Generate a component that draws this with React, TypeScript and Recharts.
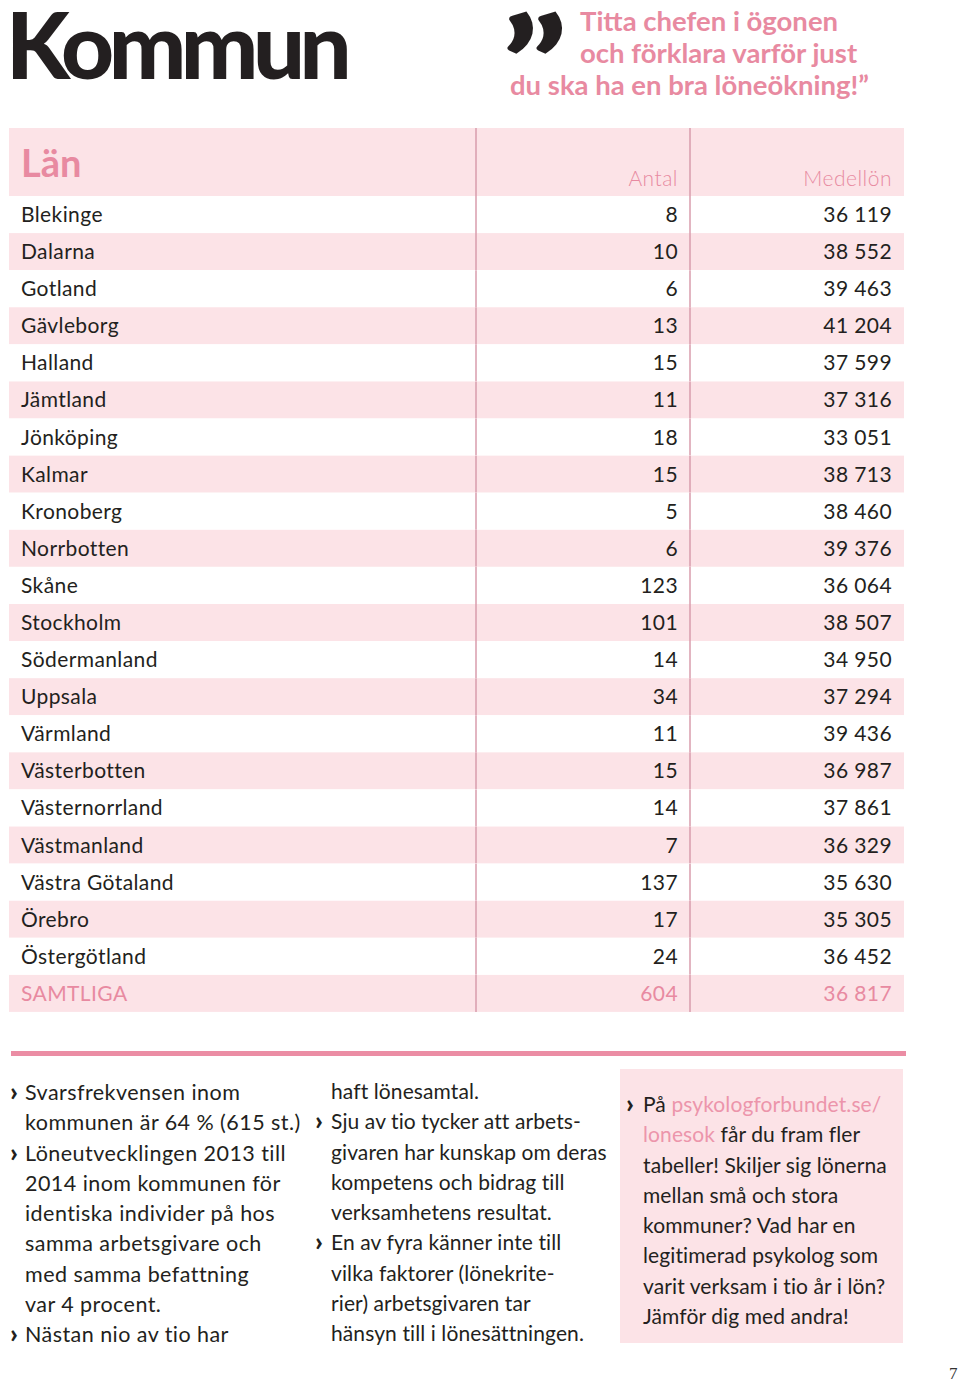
import { ComposedChart, Bar, XAxis, YAxis, LabelList } from 'recharts';

// Län, antal svarande och medellön (kommun)
const lan = [
  'Blekinge', 'Dalarna', 'Gotland', 'Gävleborg', 'Halland', 'Jämtland', 'Jönköping', 'Kalmar',
  'Kronoberg', 'Norrbotten', 'Skåne', 'Stockholm', 'Södermanland', 'Uppsala', 'Värmland',
  'Västerbotten', 'Västernorrland', 'Västmanland', 'Västra Götaland', 'Örebro', 'Östergötland', 'SAMTLIGA',
];
const antal = [8, 10, 6, 13, 15, 11, 18, 15, 5, 6, 123, 101, 14, 34, 11, 15, 14, 7, 137, 17, 24, 604];
const medellon = [
  36119, 38552, 39463, 41204, 37599, 37316, 33051, 38713, 38460, 39376, 36064,
  38507, 34950, 37294, 39436, 36987, 37861, 36329, 35630, 35305, 36452, 36817,
];

const rows = lan.map((l, i) => ({ lan: l, antal: antal[i], medellon: medellon[i] }));

const PINK_BG = '#fce3e7';
const PINK = '#e88aa1';
const SEP = '#d99cad';
const INK = '#231f20';
const FONT = 'Lato, sans-serif';

const fmt = (n: number) => `${Math.floor(n / 1000)} ${String(n % 1000).padStart(3, '0')}`;
const isTotal = (i: number) => i === lan.length - 1;

// kolumnpositioner relativt tabellens vänsterkant
const COL_NAME = 12;
const COL_SEP1 = 467;
const COL_ANTAL = 669;
const COL_SEP2 = 681;
const COL_LON = 883;

const RowBackground = (p: any) => {
  const { x, y, width, height, index } = p;
  return (
    <g>
      <rect x={x} y={y} width={width} height={height} fill={index % 2 === 1 ? PINK_BG : '#ffffff'} />
      <line x1={x + COL_SEP1} x2={x + COL_SEP1} y1={y} y2={y + height} stroke={SEP} strokeWidth={1.5} />
      <line x1={x + COL_SEP2} x2={x + COL_SEP2} y1={y} y2={y + height} stroke={SEP} strokeWidth={1.5} />
    </g>
  );
};

const cellText = (col: number, anchor: 'start' | 'end', format?: (v: any) => string) => (p: any) => {
  const vb = p.viewBox || {};
  const cy = vb.y + vb.height / 2 + 7.5;
  const v = format ? format(p.value) : p.value;
  return (
    <text
      x={col}
      y={cy}
      textAnchor={anchor}
      fontFamily={FONT}
      fontSize={21}
      letterSpacing={0.4}
      fill={isTotal(p.index) ? PINK : INK}
    >
      {v}
    </text>
  );
};

const Bullet = ({ x, y }: { x: number; y: number }) => (
  <text x={x} y={y} fontFamily={FONT} fontWeight={900} fontSize={27} fill={INK} letterSpacing={0}>›</text>
);

const col1 = [
  { b: true, t: 'Svarsfrekvensen inom' },
  { b: false, t: 'kommunen är 64 % (615 st.)' },
  { b: true, t: 'Löneutvecklingen 2013 till' },
  { b: false, t: '2014 inom kommunen för' },
  { b: false, t: 'identiska individer på hos' },
  { b: false, t: 'samma arbetsgivare och' },
  { b: false, t: 'med samma befattning' },
  { b: false, t: 'var 4 procent.' },
  { b: true, t: 'Nästan nio av tio har' },
];
const col2 = [
  { b: false, t: 'haft lönesamtal.' },
  { b: true, t: 'Sju av tio tycker att arbets-' },
  { b: false, t: 'givaren har kunskap om deras' },
  { b: false, t: 'kompetens och bidrag till' },
  { b: false, t: 'verksamhetens resultat.' },
  { b: true, t: 'En av fyra känner inte till' },
  { b: false, t: 'vilka faktorer (lönekrite-' },
  { b: false, t: 'rier) arbetsgivaren tar' },
  { b: false, t: 'hänsyn till i lönesättningen.' },
];
const col3 = [
  'tabeller! Skiljer sig lönerna',
  'mellan små och stora',
  'kommuner? Vad har en',
  'legitimerad psykolog som',
  'varit verksam i tio år i lön?',
  'Jämför dig med andra!',
];

const LINE = 30.25;

export default function App() {
  return (
    <div style={{ position: 'absolute', left: 0, top: 0, width: 960, height: 1382, background: '#fff' }}>
      <svg width={960} height={1382} style={{ position: 'absolute', left: 0, top: 0 }}>
        {/* Rubrik */}
        <text x={6} y={79} fontFamily={FONT} fontWeight={900} fontSize={92} fill={INK} letterSpacing={-5.5}>
          Kommun
        </text>

        {/* Citat */}
        <text
          x={0}
          y={112}
          fontFamily={FONT}
          fontWeight={900}
          fontSize={130}
          fill={INK}
          transform="translate(501 0) scale(1.3 1)"
        >
          ”
        </text>
        <g fontFamily={FONT} fontWeight={700} fontSize={27.5} fill={PINK}>
          <text x={580} y={31}>Titta chefen i ögonen</text>
          <text x={580} y={63}>och förklara varför just</text>
          <text x={510} y={95}>du ska ha en bra löneökning!”</text>
        </g>

        {/* Tabellhuvud */}
        <rect x={9} y={128} width={895} height={68} fill={PINK_BG} />
        <line x1={9 + COL_SEP1} x2={9 + COL_SEP1} y1={128} y2={196} stroke={SEP} strokeWidth={1.5} />
        <line x1={9 + COL_SEP2} x2={9 + COL_SEP2} y1={128} y2={196} stroke={SEP} strokeWidth={1.5} />
        <text x={21} y={177} fontFamily={FONT} fontWeight={700} fontSize={38} fill={PINK}>Län</text>
        <g fontFamily={FONT} fontWeight={300} fontSize={21} letterSpacing={0.5} fill={PINK}>
          <text x={9 + COL_ANTAL} y={186} textAnchor="end">Antal</text>
          <text x={9 + COL_LON} y={186} textAnchor="end">Medellön</text>
        </g>

        {/* Linje under tabellen */}
        <rect x={11} y={1051} width={895} height={5} fill="#eb8da4" />

        {/* Textspalter */}
        <g fontFamily={FONT} fontSize={21.5} letterSpacing={0.45} fill={INK}>
          {col1.map((r, i) => (
            <g key={`c1-${i}`}>
              {r.b && <Bullet x={10} y={1101 + i * LINE} />}
              <text x={25} y={1100 + i * LINE}>{r.t}</text>
            </g>
          ))}
        </g>
        <g fontFamily={FONT} fontSize={21} letterSpacing={0.1} fill={INK}>
          {col2.map((r, i) => (
            <g key={`c2-${i}`}>
              {r.b && <Bullet x={315} y={1100 + i * LINE} />}
              <text x={331} y={1099 + i * LINE}>{r.t}</text>
            </g>
          ))}
        </g>
        <rect x={620} y={1069} width={283} height={274} fill={PINK_BG} />
        <g fontFamily={FONT} fontSize={21} letterSpacing={0.1} fill={INK}>
          <Bullet x={626} y={1113} />
          <text x={643} y={1112}>
            På <tspan fill="#ec95ab">psykologforbundet.se/</tspan>
          </text>
          <text x={643} y={1112 + LINE}>
            <tspan fill="#ec95ab">lonesok</tspan> får du fram fler
          </text>
          {col3.map((t, i) => (
            <text key={`c3-${i}`} x={643} y={1112 + (i + 2) * LINE}>{t}</text>
          ))}
        </g>

        <text x={949} y={1379} fontFamily="'Liberation Serif', serif" fontSize={17} fill="#333">7</text>
      </svg>

      <div style={{ position: 'absolute', left: 9, top: 196 }}>
        <ComposedChart
          width={895}
          height={816}
          layout="vertical"
          data={rows}
          margin={{ top: 0, right: 0, bottom: 0, left: 0 }}
          barCategoryGap={0}
        >
          <XAxis type="number" hide domain={[0, 'dataMax']} />
          <YAxis type="category" dataKey="lan" hide />
          <Bar
            dataKey="antal"
            isAnimationActive={false}
            background={RowBackground}
            shape={() => <g />}
          >
            <LabelList dataKey="lan" content={cellText(COL_NAME, 'start')} />
            <LabelList dataKey="antal" content={cellText(COL_ANTAL, 'end')} />
            <LabelList dataKey="medellon" content={cellText(COL_LON, 'end', fmt)} />
          </Bar>
        </ComposedChart>
      </div>
    </div>
  );
}
